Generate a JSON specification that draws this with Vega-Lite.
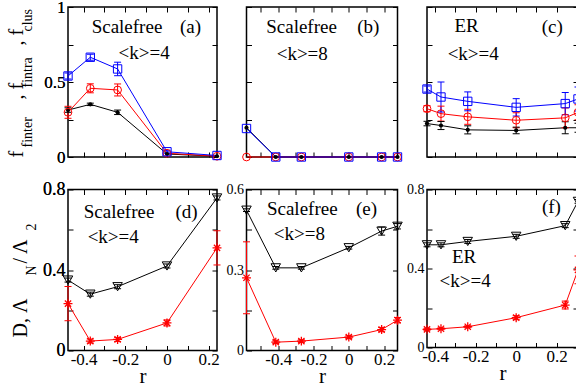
{
  "$schema": "https://vega.github.io/schema/vega-lite/v6.json",
  "background": "white",
  "padding": {"left": 5, "top": -3, "right": 0, "bottom": 0},
  "columns": 3,
  "spacing": {"row": 32.5, "column": 29.5},
  "bounds": "flush",
  "align": "none",
  "datasets": {
    "a": [
      {"s": "finter", "r": -0.475, "v": 0.313, "lo": 0.298, "hi": 0.328},
      {"s": "finter", "r": -0.368, "v": 0.351, "lo": 0.343, "hi": 0.359},
      {"s": "finter", "r": -0.237, "v": 0.298, "lo": 0.283, "hi": 0.313},
      {"s": "finter", "r": 0, "v": 0.02},
      {"s": "finter", "r": 0.24, "v": 0.005},
      {"s": "fintra", "r": -0.475, "v": 0.298, "lo": 0.258, "hi": 0.338},
      {"s": "fintra", "r": -0.368, "v": 0.458, "lo": 0.428, "hi": 0.488},
      {"s": "fintra", "r": -0.237, "v": 0.447, "lo": 0.407, "hi": 0.487},
      {"s": "fintra", "r": 0, "v": 0.025},
      {"s": "fintra", "r": 0.24, "v": 0.005},
      {"s": "clus", "r": -0.475, "v": 0.54, "lo": 0.52, "hi": 0.56},
      {"s": "clus", "r": -0.368, "v": 0.665, "lo": 0.645, "hi": 0.685},
      {"s": "clus", "r": -0.237, "v": 0.587, "lo": 0.542, "hi": 0.632},
      {"s": "clus", "r": 0, "v": 0.035, "lo": 0.025, "hi": 0.045},
      {"s": "clus", "r": 0.24, "v": 0.01}
    ],
    "b": [
      {"s": "finter", "r": -0.58, "v": 0.195},
      {"s": "finter", "r": -0.414, "v": 0},
      {"s": "finter", "r": -0.269, "v": 0},
      {"s": "finter", "r": 0, "v": 0},
      {"s": "finter", "r": 0.186, "v": 0},
      {"s": "finter", "r": 0.276, "v": 0},
      {"s": "fintra", "r": -0.58, "v": 0},
      {"s": "fintra", "r": -0.414, "v": 0},
      {"s": "fintra", "r": -0.269, "v": 0},
      {"s": "fintra", "r": 0, "v": 0},
      {"s": "fintra", "r": 0.186, "v": 0},
      {"s": "fintra", "r": 0.276, "v": 0},
      {"s": "clus", "r": -0.58, "v": 0.19, "lo": 0.18, "hi": 0.2},
      {"s": "clus", "r": -0.414, "v": 0},
      {"s": "clus", "r": -0.269, "v": 0},
      {"s": "clus", "r": 0, "v": 0},
      {"s": "clus", "r": 0.186, "v": 0},
      {"s": "clus", "r": 0.276, "v": 0}
    ],
    "c": [
      {"s": "finter", "r": -0.44, "v": 0.223, "lo": 0.208, "hi": 0.238},
      {"s": "finter", "r": -0.371, "v": 0.21, "lo": 0.183, "hi": 0.237},
      {"s": "finter", "r": -0.239, "v": 0.181, "lo": 0.154, "hi": 0.208},
      {"s": "finter", "r": 0, "v": 0.177, "lo": 0.155, "hi": 0.199},
      {"s": "finter", "r": 0.242, "v": 0.195, "lo": 0.155, "hi": 0.235},
      {"s": "finter", "r": 0.305, "v": 0.195, "lo": 0.165, "hi": 0.225},
      {"s": "fintra", "r": -0.44, "v": 0.322, "lo": 0.302, "hi": 0.342},
      {"s": "fintra", "r": -0.371, "v": 0.289, "lo": 0.239, "hi": 0.339},
      {"s": "fintra", "r": -0.239, "v": 0.268, "lo": 0.218, "hi": 0.318},
      {"s": "fintra", "r": 0, "v": 0.245, "lo": 0.195, "hi": 0.295},
      {"s": "fintra", "r": 0.242, "v": 0.261, "lo": 0.195, "hi": 0.327},
      {"s": "fintra", "r": 0.305, "v": 0.298, "lo": 0.248, "hi": 0.348},
      {"s": "clus", "r": -0.44, "v": 0.453, "lo": 0.433, "hi": 0.473},
      {"s": "clus", "r": -0.371, "v": 0.4, "lo": 0.3, "hi": 0.5},
      {"s": "clus", "r": -0.239, "v": 0.371, "lo": 0.308, "hi": 0.434},
      {"s": "clus", "r": 0, "v": 0.331, "lo": 0.273, "hi": 0.389},
      {"s": "clus", "r": 0.242, "v": 0.356, "lo": 0.282, "hi": 0.43},
      {"s": "clus", "r": 0.305, "v": 0.387, "lo": 0.307, "hi": 0.467}
    ],
    "d": [
      {"s": "D", "r": -0.475, "v": 0.35, "lo": 0.34, "hi": 0.36},
      {"s": "D", "r": -0.368, "v": 0.28, "lo": 0.27, "hi": 0.29},
      {"s": "D", "r": -0.237, "v": 0.317, "lo": 0.307, "hi": 0.327},
      {"s": "D", "r": 0, "v": 0.42, "lo": 0.41, "hi": 0.43},
      {"s": "D", "r": 0.24, "v": 0.758, "lo": 0.748, "hi": 0.768},
      {"s": "L", "r": -0.475, "v": 0.233, "lo": 0.148, "hi": 0.318},
      {"s": "L", "r": -0.368, "v": 0.047, "lo": 0.037, "hi": 0.057},
      {"s": "L", "r": -0.237, "v": 0.055, "lo": 0.045, "hi": 0.065},
      {"s": "L", "r": 0, "v": 0.137, "lo": 0.122, "hi": 0.152},
      {"s": "L", "r": 0.24, "v": 0.51, "lo": 0.425, "hi": 0.595}
    ],
    "e": [
      {"s": "D", "r": -0.58, "v": 0.523, "lo": 0.518, "hi": 0.528},
      {"s": "D", "r": -0.414, "v": 0.308, "lo": 0.303, "hi": 0.313},
      {"s": "D", "r": -0.269, "v": 0.308, "lo": 0.303, "hi": 0.313},
      {"s": "D", "r": 0, "v": 0.383, "lo": 0.378, "hi": 0.388},
      {"s": "D", "r": 0.186, "v": 0.445, "lo": 0.43, "hi": 0.46},
      {"s": "D", "r": 0.276, "v": 0.463, "lo": 0.453, "hi": 0.473},
      {"s": "L", "r": -0.58, "v": 0.271, "lo": 0.137, "hi": 0.405},
      {"s": "L", "r": -0.414, "v": 0.031, "lo": 0.026, "hi": 0.036},
      {"s": "L", "r": -0.269, "v": 0.035, "lo": 0.03, "hi": 0.04},
      {"s": "L", "r": 0, "v": 0.05, "lo": 0.045, "hi": 0.055},
      {"s": "L", "r": 0.186, "v": 0.078, "lo": 0.07, "hi": 0.086},
      {"s": "L", "r": 0.276, "v": 0.113, "lo": 0.103, "hi": 0.123}
    ],
    "f": [
      {"s": "D", "r": -0.44, "v": 0.52, "lo": 0.51, "hi": 0.53},
      {"s": "D", "r": -0.371, "v": 0.52, "lo": 0.51, "hi": 0.53},
      {"s": "D", "r": -0.239, "v": 0.537, "lo": 0.527, "hi": 0.547},
      {"s": "D", "r": 0, "v": 0.563, "lo": 0.553, "hi": 0.573},
      {"s": "D", "r": 0.242, "v": 0.617, "lo": 0.607, "hi": 0.627},
      {"s": "D", "r": 0.305, "v": 0.74, "lo": 0.73, "hi": 0.75},
      {"s": "L", "r": -0.44, "v": 0.092, "lo": 0.087, "hi": 0.097},
      {"s": "L", "r": -0.371, "v": 0.095, "lo": 0.09, "hi": 0.1},
      {"s": "L", "r": -0.239, "v": 0.105, "lo": 0.1, "hi": 0.11},
      {"s": "L", "r": 0, "v": 0.151, "lo": 0.141, "hi": 0.161},
      {"s": "L", "r": 0.242, "v": 0.215, "lo": 0.195, "hi": 0.235},
      {"s": "L", "r": 0.305, "v": 0.393, "lo": 0.323, "hi": 0.463}
    ]
  },
  "concat": [
    {
      "width": 149, "height": 150,
      "data": {"name": "a"},
      "layer": [
        {"mark": {"type": "line", "strokeWidth": 1},
         "encoding": {
           "x": {"field": "r", "type": "quantitative", "scale": {"domain": [-0.475, 0.24], "nice": false, "zero": false}, "axis": {"orient": "bottom", "values": [-0.4, -0.3, -0.2, -0.1, 0, 0.1, 0.2], "labels": false, "title": null}},
           "y": {"field": "v", "type": "quantitative", "scale": {"domain": [0, 1], "nice": false}, "axis": {"orient": "left", "values": [0, 0.25, 0.5, 0.75, 1], "labelExpr": "round(datum.value*4)%2==0 ? format(datum.value,'~g') : ''", "labelFontSize": 17, "title": null}},
           "color": {"field": "s", "type": "nominal", "scale": {"domain": ["finter", "fintra", "clus"], "range": ["#000000", "#ff0000", "#0000ff"]}, "legend": null}}},
        {"transform": [{"filter": "isValid(datum.lo)"}],
         "mark": {"type": "rule", "strokeWidth": 1},
         "encoding": {
           "x": {"field": "r", "type": "quantitative", "scale": {"domain": [-0.475, 0.24], "nice": false, "zero": false}, "axis": {"orient": "top", "values": [-0.4, -0.3, -0.2, -0.1, 0, 0.1, 0.2], "labels": false, "title": null}},
           "y": {"field": "lo", "type": "quantitative", "scale": {"domain": [0, 1], "nice": false}, "axis": {"orient": "right", "values": [0, 0.25, 0.5, 0.75, 1], "labels": false, "title": null}},
           "y2": {"field": "hi"},
           "color": {"field": "s", "type": "nominal", "scale": {"domain": ["finter", "fintra", "clus"], "range": ["#000000", "#ff0000", "#0000ff"]}, "legend": null}}},
        {"transform": [{"filter": "isValid(datum.lo)"}],
         "mark": {"type": "tick", "orient": "horizontal", "size": 7, "thickness": 1, "opacity": 1},
         "encoding": {
           "x": {"field": "r", "type": "quantitative", "scale": {"domain": [-0.475, 0.24], "nice": false, "zero": false}, "axis": null},
           "y": {"field": "lo", "type": "quantitative", "scale": {"domain": [0, 1], "nice": false}, "axis": {"orient": "right", "ticks": false, "labels": false, "title": "f", "titleFontSize": 20, "titleAngle": 270, "titleAlign": "left", "titleBaseline": "alphabetic", "titleX": -194.5, "titleY": 150}},
           "color": {"field": "s", "type": "nominal", "scale": {"domain": ["finter", "fintra", "clus"], "range": ["#000000", "#ff0000", "#0000ff"]}, "legend": null}}},
        {"transform": [{"filter": "isValid(datum.hi)"}],
         "mark": {"type": "tick", "orient": "horizontal", "size": 7, "thickness": 1, "opacity": 1},
         "encoding": {
           "x": {"field": "r", "type": "quantitative", "scale": {"domain": [-0.475, 0.24], "nice": false, "zero": false}, "axis": null},
           "y": {"field": "hi", "type": "quantitative", "scale": {"domain": [0, 1], "nice": false}, "axis": {"orient": "right", "ticks": false, "labels": false, "title": "finter", "titleFontSize": 14, "titleAngle": 270, "titleAlign": "left", "titleBaseline": "alphabetic", "titleX": -185.5, "titleY": 140}},
           "color": {"field": "s", "type": "nominal", "scale": {"domain": ["finter", "fintra", "clus"], "range": ["#000000", "#ff0000", "#0000ff"]}, "legend": null}}},
        {"transform": [{"filter": "datum.s=='finter'"}],
         "mark": {"type": "circle", "size": 18, "color": "#000000", "opacity": 1},
         "encoding": {
           "x": {"field": "r", "type": "quantitative", "scale": {"domain": [-0.475, 0.24], "nice": false, "zero": false}, "axis": null},
           "y": {"field": "v", "type": "quantitative", "scale": {"domain": [0, 1], "nice": false}, "axis": {"orient": "right", "ticks": false, "labels": false, "title": ", f", "titleFontSize": 20, "titleAngle": 270, "titleAlign": "left", "titleBaseline": "alphabetic", "titleX": -194.5, "titleY": 92}}}},
        {"transform": [{"filter": "datum.s=='fintra'"}],
         "mark": {"type": "point", "shape": "circle", "filled": false, "size": 60, "color": "#ff0000", "strokeWidth": 1, "opacity": 1},
         "encoding": {
           "x": {"field": "r", "type": "quantitative", "scale": {"domain": [-0.475, 0.24], "nice": false, "zero": false}, "axis": null},
           "y": {"field": "v", "type": "quantitative", "scale": {"domain": [0, 1], "nice": false}, "axis": {"orient": "right", "ticks": false, "labels": false, "title": "fintra", "titleFontSize": 14, "titleAngle": 270, "titleAlign": "left", "titleBaseline": "alphabetic", "titleX": -185.5, "titleY": 80}}}},
        {"transform": [{"filter": "datum.s=='clus'"}],
         "mark": {"type": "point", "shape": "square", "filled": false, "size": 70, "color": "#0000ff", "strokeWidth": 1, "opacity": 1},
         "encoding": {
           "x": {"field": "r", "type": "quantitative", "scale": {"domain": [-0.475, 0.24], "nice": false, "zero": false}, "axis": null},
           "y": {"field": "v", "type": "quantitative", "scale": {"domain": [0, 1], "nice": false}, "axis": {"orient": "right", "ticks": false, "labels": false, "title": ", f", "titleFontSize": 20, "titleAngle": 270, "titleAlign": "left", "titleBaseline": "alphabetic", "titleX": -194.5, "titleY": 38}}}},
        {"data": {"values": [{}]}, "mark": {"type": "text", "text": "Scalefree", "align": "center", "baseline": "alphabetic"},
         "encoding": {"x": {"datum": -0.192, "type": "quantitative", "axis": null}, "y": {"datum": 0.827, "type": "quantitative", "axis": {"orient": "right", "ticks": false, "labels": false, "title": "clus", "titleFontSize": 14, "titleAngle": 270, "titleAlign": "left", "titleBaseline": "alphabetic", "titleX": -185.5, "titleY": 24}}}},
        {"data": {"values": [{}]}, "mark": {"type": "text", "text": "(a)", "align": "center", "baseline": "alphabetic"},
         "encoding": {"x": {"datum": 0.113, "type": "quantitative", "axis": null}, "y": {"datum": 0.827, "type": "quantitative", "axis": {"orient": "right", "values": [0, 0.5, 1], "format": "~g", "labelAlign": "right", "labelPadding": -147, "labelFontSize": 17, "ticks": true, "tickOpacity": 0, "title": null}}}},
        {"data": {"values": [{}]}, "mark": {"type": "text", "text": "<k>=4", "align": "center", "baseline": "alphabetic"},
         "encoding": {"x": {"datum": -0.11, "type": "quantitative", "axis": null}, "y": {"datum": 0.653, "type": "quantitative", "axis": null}}}
      ],
      "resolve": {"axis": {"x": "independent", "y": "independent"}}
    },
    {
      "width": 151, "height": 150,
      "data": {"name": "b"},
      "layer": [
        {"mark": {"type": "line", "strokeWidth": 1},
         "encoding": {
           "x": {"field": "r", "type": "quantitative", "scale": {"domain": [-0.58, 0.276], "nice": false, "zero": false}, "axis": {"orient": "bottom", "values": [-0.5, -0.4, -0.3, -0.2, -0.1, 0, 0.1, 0.2], "labels": false, "title": null}},
           "y": {"field": "v", "type": "quantitative", "scale": {"domain": [0, 1], "nice": false}, "axis": {"orient": "left", "values": [0, 0.25, 0.5, 0.75, 1], "labels": false, "title": null}},
           "color": {"field": "s", "type": "nominal", "scale": {"domain": ["finter", "fintra", "clus"], "range": ["#000000", "#ff0000", "#0000ff"]}, "legend": null}}},
        {"transform": [{"filter": "isValid(datum.lo)"}],
         "mark": {"type": "rule", "strokeWidth": 1},
         "encoding": {
           "x": {"field": "r", "type": "quantitative", "scale": {"domain": [-0.58, 0.276], "nice": false, "zero": false}, "axis": {"orient": "top", "values": [-0.5, -0.4, -0.3, -0.2, -0.1, 0, 0.1, 0.2], "labels": false, "title": null}},
           "y": {"field": "lo", "type": "quantitative", "scale": {"domain": [0, 1], "nice": false}, "axis": {"orient": "right", "values": [0, 0.25, 0.5, 0.75, 1], "labels": false, "title": null}},
           "y2": {"field": "hi"},
           "color": {"field": "s", "type": "nominal", "scale": {"domain": ["finter", "fintra", "clus"], "range": ["#000000", "#ff0000", "#0000ff"]}, "legend": null}}},
        {"transform": [{"filter": "datum.s=='fintra'"}],
         "mark": {"type": "point", "shape": "circle", "filled": false, "size": 60, "color": "#ff0000", "strokeWidth": 1, "opacity": 1},
         "encoding": {
           "x": {"field": "r", "type": "quantitative", "scale": {"domain": [-0.58, 0.276], "nice": false, "zero": false}, "axis": null},
           "y": {"field": "v", "type": "quantitative", "scale": {"domain": [0, 1], "nice": false}, "axis": null}}},
        {"transform": [{"filter": "datum.s=='clus'"}],
         "mark": {"type": "point", "shape": "square", "filled": false, "size": 70, "color": "#0000ff", "strokeWidth": 1, "opacity": 1},
         "encoding": {
           "x": {"field": "r", "type": "quantitative", "scale": {"domain": [-0.58, 0.276], "nice": false, "zero": false}, "axis": null},
           "y": {"field": "v", "type": "quantitative", "scale": {"domain": [0, 1], "nice": false}, "axis": null}}},
        {"transform": [{"filter": "datum.s=='finter'"}],
         "mark": {"type": "circle", "size": 18, "color": "#000000", "opacity": 1},
         "encoding": {
           "x": {"field": "r", "type": "quantitative", "scale": {"domain": [-0.58, 0.276], "nice": false, "zero": false}, "axis": null},
           "y": {"field": "v", "type": "quantitative", "scale": {"domain": [0, 1], "nice": false}, "axis": null}}},
        {"data": {"values": [{}]}, "mark": {"type": "text", "text": "Scalefree", "align": "center", "baseline": "alphabetic"},
         "encoding": {"x": {"datum": -0.268, "type": "quantitative", "axis": null}, "y": {"datum": 0.827, "type": "quantitative", "axis": null}}},
        {"data": {"values": [{}]}, "mark": {"type": "text", "text": "(b)", "align": "center", "baseline": "alphabetic"},
         "encoding": {"x": {"datum": 0.11, "type": "quantitative", "axis": null}, "y": {"datum": 0.827, "type": "quantitative", "axis": null}}},
        {"data": {"values": [{}]}, "mark": {"type": "text", "text": "<k>=8", "align": "center", "baseline": "alphabetic"},
         "encoding": {"x": {"datum": -0.264, "type": "quantitative", "axis": null}, "y": {"datum": 0.647, "type": "quantitative", "axis": null}}}
      ],
      "resolve": {"axis": {"x": "independent", "y": "independent"}}
    },
    {
      "width": 151, "height": 150,
      "data": {"name": "c"},
      "layer": [
        {"mark": {"type": "line", "strokeWidth": 1},
         "encoding": {
           "x": {"field": "r", "type": "quantitative", "scale": {"domain": [-0.44, 0.305], "nice": false, "zero": false}, "axis": {"orient": "bottom", "values": [-0.4, -0.3, -0.2, -0.1, 0, 0.1, 0.2], "labels": false, "title": null}},
           "y": {"field": "v", "type": "quantitative", "scale": {"domain": [0, 1], "nice": false}, "axis": {"orient": "left", "values": [0, 0.25, 0.5, 0.75, 1], "labels": false, "title": null}},
           "color": {"field": "s", "type": "nominal", "scale": {"domain": ["finter", "fintra", "clus"], "range": ["#000000", "#ff0000", "#0000ff"]}, "legend": null}}},
        {"transform": [{"filter": "isValid(datum.lo)"}],
         "mark": {"type": "rule", "strokeWidth": 1},
         "encoding": {
           "x": {"field": "r", "type": "quantitative", "scale": {"domain": [-0.44, 0.305], "nice": false, "zero": false}, "axis": {"orient": "top", "values": [-0.4, -0.3, -0.2, -0.1, 0, 0.1, 0.2], "labels": false, "title": null}},
           "y": {"field": "lo", "type": "quantitative", "scale": {"domain": [0, 1], "nice": false}, "axis": {"orient": "right", "values": [0, 0.25, 0.5, 0.75, 1], "labels": false, "title": null}},
           "y2": {"field": "hi"},
           "color": {"field": "s", "type": "nominal", "scale": {"domain": ["finter", "fintra", "clus"], "range": ["#000000", "#ff0000", "#0000ff"]}, "legend": null}}},
        {"transform": [{"filter": "isValid(datum.lo)"}],
         "mark": {"type": "tick", "orient": "horizontal", "size": 7, "thickness": 1, "opacity": 1},
         "encoding": {
           "x": {"field": "r", "type": "quantitative", "scale": {"domain": [-0.44, 0.305], "nice": false, "zero": false}, "axis": null},
           "y": {"field": "lo", "type": "quantitative", "scale": {"domain": [0, 1], "nice": false}, "axis": null},
           "color": {"field": "s", "type": "nominal", "scale": {"domain": ["finter", "fintra", "clus"], "range": ["#000000", "#ff0000", "#0000ff"]}, "legend": null}}},
        {"transform": [{"filter": "isValid(datum.hi)"}],
         "mark": {"type": "tick", "orient": "horizontal", "size": 7, "thickness": 1, "opacity": 1},
         "encoding": {
           "x": {"field": "r", "type": "quantitative", "scale": {"domain": [-0.44, 0.305], "nice": false, "zero": false}, "axis": null},
           "y": {"field": "hi", "type": "quantitative", "scale": {"domain": [0, 1], "nice": false}, "axis": null},
           "color": {"field": "s", "type": "nominal", "scale": {"domain": ["finter", "fintra", "clus"], "range": ["#000000", "#ff0000", "#0000ff"]}, "legend": null}}},
        {"transform": [{"filter": "datum.s=='finter'"}],
         "mark": {"type": "circle", "size": 18, "color": "#000000", "opacity": 1},
         "encoding": {
           "x": {"field": "r", "type": "quantitative", "scale": {"domain": [-0.44, 0.305], "nice": false, "zero": false}, "axis": null},
           "y": {"field": "v", "type": "quantitative", "scale": {"domain": [0, 1], "nice": false}, "axis": null}}},
        {"transform": [{"filter": "datum.s=='fintra'"}],
         "mark": {"type": "point", "shape": "circle", "filled": false, "size": 60, "color": "#ff0000", "strokeWidth": 1, "opacity": 1},
         "encoding": {
           "x": {"field": "r", "type": "quantitative", "scale": {"domain": [-0.44, 0.305], "nice": false, "zero": false}, "axis": null},
           "y": {"field": "v", "type": "quantitative", "scale": {"domain": [0, 1], "nice": false}, "axis": null}}},
        {"transform": [{"filter": "datum.s=='clus'"}],
         "mark": {"type": "point", "shape": "square", "filled": false, "size": 70, "color": "#0000ff", "strokeWidth": 1, "opacity": 1},
         "encoding": {
           "x": {"field": "r", "type": "quantitative", "scale": {"domain": [-0.44, 0.305], "nice": false, "zero": false}, "axis": null},
           "y": {"field": "v", "type": "quantitative", "scale": {"domain": [0, 1], "nice": false}, "axis": null}}},
        {"data": {"values": [{}]}, "mark": {"type": "text", "text": "ER", "align": "center", "baseline": "alphabetic"},
         "encoding": {"x": {"datum": -0.245, "type": "quantitative", "axis": null}, "y": {"datum": 0.831, "type": "quantitative", "axis": null}}},
        {"data": {"values": [{}]}, "mark": {"type": "text", "text": "(c)", "align": "center", "baseline": "alphabetic"},
         "encoding": {"x": {"datum": 0.178, "type": "quantitative", "axis": null}, "y": {"datum": 0.827, "type": "quantitative", "axis": null}}},
        {"data": {"values": [{}]}, "mark": {"type": "text", "text": "<k>=4", "align": "center", "baseline": "alphabetic"},
         "encoding": {"x": {"datum": -0.212, "type": "quantitative", "axis": null}, "y": {"datum": 0.647, "type": "quantitative", "axis": null}}}
      ],
      "resolve": {"axis": {"x": "independent", "y": "independent"}}
    },
    {
      "width": 149, "height": 161,
      "data": {"name": "d"},
      "layer": [
        {"mark": {"type": "line", "strokeWidth": 1},
         "encoding": {
           "x": {"field": "r", "type": "quantitative", "scale": {"domain": [-0.475, 0.24], "nice": false, "zero": false}, "axis": {"orient": "bottom", "values": [-0.4, -0.3, -0.2, -0.1, 0, 0.1, 0.2], "labelExpr": "round(datum.value*10)%2==0 ? replace(format(datum.value,'~g'),'\u2212','-') : ''", "labelPadding": 6, "title": "r", "titleFontSize": 21, "titlePadding": -2}},
           "y": {"field": "v", "type": "quantitative", "scale": {"domain": [0, 0.8], "nice": false}, "axis": {"orient": "left", "values": [0, 0.2, 0.4, 0.6, 0.8], "labelExpr": "round(datum.value*5)%2==0 ? format(datum.value,'~g') : ''", "labelFontSize": 18, "title": null}},
           "color": {"field": "s", "type": "nominal", "scale": {"domain": ["D", "L"], "range": ["#000000", "#ff0000"]}, "legend": null}}},
        {"transform": [{"filter": "isValid(datum.lo)"}],
         "mark": {"type": "rule", "strokeWidth": 1},
         "encoding": {
           "x": {"field": "r", "type": "quantitative", "scale": {"domain": [-0.475, 0.24], "nice": false, "zero": false}, "axis": {"orient": "top", "values": [-0.4, -0.3, -0.2, -0.1, 0, 0.1, 0.2], "labels": false, "title": null}},
           "y": {"field": "lo", "type": "quantitative", "scale": {"domain": [0, 0.8], "nice": false}, "axis": {"orient": "right", "values": [0, 0.2, 0.4, 0.6, 0.8], "labels": false, "title": null}},
           "y2": {"field": "hi"},
           "color": {"field": "s", "type": "nominal", "scale": {"domain": ["D", "L"], "range": ["#000000", "#ff0000"]}, "legend": null}}},
        {"transform": [{"filter": "isValid(datum.lo)"}],
         "mark": {"type": "tick", "orient": "horizontal", "size": 7, "thickness": 1, "opacity": 1},
         "encoding": {
           "x": {"field": "r", "type": "quantitative", "scale": {"domain": [-0.475, 0.24], "nice": false, "zero": false}, "axis": null},
           "y": {"field": "lo", "type": "quantitative", "scale": {"domain": [0, 0.8], "nice": false}, "axis": {"orient": "right", "ticks": false, "labels": false, "title": "D,  \u039b", "titleFontSize": 20, "titleAngle": 270, "titleAlign": "left", "titleBaseline": "alphabetic", "titleX": -190.5, "titleY": 147.5}},
           "color": {"field": "s", "type": "nominal", "scale": {"domain": ["D", "L"], "range": ["#000000", "#ff0000"]}, "legend": null}}},
        {"transform": [{"filter": "isValid(datum.hi)"}],
         "mark": {"type": "tick", "orient": "horizontal", "size": 7, "thickness": 1, "opacity": 1},
         "encoding": {
           "x": {"field": "r", "type": "quantitative", "scale": {"domain": [-0.475, 0.24], "nice": false, "zero": false}, "axis": null},
           "y": {"field": "hi", "type": "quantitative", "scale": {"domain": [0, 0.8], "nice": false}, "axis": {"orient": "right", "ticks": false, "labels": false, "title": "N", "titleFontSize": 14, "titleAngle": 270, "titleAlign": "left", "titleBaseline": "alphabetic", "titleX": -182, "titleY": 85.5}},
           "color": {"field": "s", "type": "nominal", "scale": {"domain": ["D", "L"], "range": ["#000000", "#ff0000"]}, "legend": null}}},
        {"transform": [{"filter": "datum.s=='D'"}],
         "mark": {"type": "point", "shape": "triangle-down", "filled": false, "size": 90, "color": "#000000", "strokeWidth": 1, "opacity": 1},
         "encoding": {
           "x": {"field": "r", "type": "quantitative", "scale": {"domain": [-0.475, 0.24], "nice": false, "zero": false}, "axis": null},
           "y": {"field": "v", "type": "quantitative", "scale": {"domain": [0, 0.8], "nice": false}, "axis": {"orient": "right", "ticks": false, "labels": false, "title": "/ \u039b", "titleFontSize": 20, "titleAngle": 270, "titleAlign": "left", "titleBaseline": "alphabetic", "titleX": -190.5, "titleY": 73.5}}}},
        {"transform": [{"filter": "datum.s=='L'"}],
         "mark": {"type": "point", "shape": "M -1 0 L 1 0 M 0 -1 L 0 1 M -0.7 -0.7 L 0.7 0.7 M -0.7 0.7 L 0.7 -0.7", "filled": false, "size": 80, "color": "#ff0000", "strokeWidth": 1.3, "opacity": 1},
         "encoding": {
           "x": {"field": "r", "type": "quantitative", "scale": {"domain": [-0.475, 0.24], "nice": false, "zero": false}, "axis": null},
           "y": {"field": "v", "type": "quantitative", "scale": {"domain": [0, 0.8], "nice": false}, "axis": {"orient": "right", "ticks": false, "labels": false, "title": "2", "titleFontSize": 14, "titleAngle": 270, "titleAlign": "left", "titleBaseline": "alphabetic", "titleX": -182, "titleY": 40.5}}}},
        {"data": {"values": [{}]}, "mark": {"type": "text", "text": "Scalefree", "align": "center", "baseline": "alphabetic"},
         "encoding": {"x": {"datum": -0.23, "type": "quantitative", "axis": null}, "y": {"datum": 0.66, "type": "quantitative", "axis": null}}},
        {"data": {"values": [{}]}, "mark": {"type": "text", "text": "(d)", "align": "center", "baseline": "alphabetic"},
         "encoding": {"x": {"datum": 0.094, "type": "quantitative", "axis": null}, "y": {"datum": 0.66, "type": "quantitative", "axis": {"orient": "right", "values": [0, 0.4, 0.8], "format": "~g", "labelAlign": "right", "labelPadding": -147, "labelFontSize": 18, "ticks": true, "tickOpacity": 0, "title": null}}}},
        {"data": {"values": [{}]}, "mark": {"type": "text", "text": "<k>=4", "align": "center", "baseline": "alphabetic"},
         "encoding": {"x": {"datum": -0.258, "type": "quantitative", "axis": null}, "y": {"datum": 0.533, "type": "quantitative", "axis": null}}}
      ],
      "resolve": {"axis": {"x": "independent", "y": "independent"}}
    },
    {
      "width": 151, "height": 161,
      "data": {"name": "e"},
      "layer": [
        {"mark": {"type": "line", "strokeWidth": 1},
         "encoding": {
           "x": {"field": "r", "type": "quantitative", "scale": {"domain": [-0.58, 0.276], "nice": false, "zero": false}, "axis": {"orient": "bottom", "values": [-0.5, -0.4, -0.3, -0.2, -0.1, 0, 0.1, 0.2], "labelExpr": "round(datum.value*10)%2==0 ? replace(format(datum.value,'~g'),'\u2212','-') : ''", "labelPadding": 6, "title": "r", "titleFontSize": 21, "titlePadding": -2}},
           "y": {"field": "v", "type": "quantitative", "scale": {"domain": [0, 0.6], "nice": false}, "axis": {"orient": "left", "values": [0, 0.15, 0.3, 0.45, 0.6], "labelExpr": "round(datum.value/0.15)%2==0 ? format(datum.value,'~g') : ''", "labelFontSize": 14, "title": null}},
           "color": {"field": "s", "type": "nominal", "scale": {"domain": ["D", "L"], "range": ["#000000", "#ff0000"]}, "legend": null}}},
        {"transform": [{"filter": "isValid(datum.lo)"}],
         "mark": {"type": "rule", "strokeWidth": 1},
         "encoding": {
           "x": {"field": "r", "type": "quantitative", "scale": {"domain": [-0.58, 0.276], "nice": false, "zero": false}, "axis": {"orient": "top", "values": [-0.5, -0.4, -0.3, -0.2, -0.1, 0, 0.1, 0.2], "labels": false, "title": null}},
           "y": {"field": "lo", "type": "quantitative", "scale": {"domain": [0, 0.6], "nice": false}, "axis": {"orient": "right", "values": [0, 0.15, 0.3, 0.45, 0.6], "labels": false, "title": null}},
           "y2": {"field": "hi"},
           "color": {"field": "s", "type": "nominal", "scale": {"domain": ["D", "L"], "range": ["#000000", "#ff0000"]}, "legend": null}}},
        {"transform": [{"filter": "isValid(datum.lo)"}],
         "mark": {"type": "tick", "orient": "horizontal", "size": 7, "thickness": 1, "opacity": 1},
         "encoding": {
           "x": {"field": "r", "type": "quantitative", "scale": {"domain": [-0.58, 0.276], "nice": false, "zero": false}, "axis": null},
           "y": {"field": "lo", "type": "quantitative", "scale": {"domain": [0, 0.6], "nice": false}, "axis": null},
           "color": {"field": "s", "type": "nominal", "scale": {"domain": ["D", "L"], "range": ["#000000", "#ff0000"]}, "legend": null}}},
        {"transform": [{"filter": "isValid(datum.hi)"}],
         "mark": {"type": "tick", "orient": "horizontal", "size": 7, "thickness": 1, "opacity": 1},
         "encoding": {
           "x": {"field": "r", "type": "quantitative", "scale": {"domain": [-0.58, 0.276], "nice": false, "zero": false}, "axis": null},
           "y": {"field": "hi", "type": "quantitative", "scale": {"domain": [0, 0.6], "nice": false}, "axis": null},
           "color": {"field": "s", "type": "nominal", "scale": {"domain": ["D", "L"], "range": ["#000000", "#ff0000"]}, "legend": null}}},
        {"transform": [{"filter": "datum.s=='D'"}],
         "mark": {"type": "point", "shape": "triangle-down", "filled": false, "size": 90, "color": "#000000", "strokeWidth": 1, "opacity": 1},
         "encoding": {
           "x": {"field": "r", "type": "quantitative", "scale": {"domain": [-0.58, 0.276], "nice": false, "zero": false}, "axis": null},
           "y": {"field": "v", "type": "quantitative", "scale": {"domain": [0, 0.6], "nice": false}, "axis": null}}},
        {"transform": [{"filter": "datum.s=='L'"}],
         "mark": {"type": "point", "shape": "M -1 0 L 1 0 M 0 -1 L 0 1 M -0.7 -0.7 L 0.7 0.7 M -0.7 0.7 L 0.7 -0.7", "filled": false, "size": 80, "color": "#ff0000", "strokeWidth": 1.3, "opacity": 1},
         "encoding": {
           "x": {"field": "r", "type": "quantitative", "scale": {"domain": [-0.58, 0.276], "nice": false, "zero": false}, "axis": null},
           "y": {"field": "v", "type": "quantitative", "scale": {"domain": [0, 0.6], "nice": false}, "axis": null}}},
        {"data": {"values": [{}]}, "mark": {"type": "text", "text": "Scalefree", "align": "center", "baseline": "alphabetic"},
         "encoding": {"x": {"datum": -0.264, "type": "quantitative", "axis": null}, "y": {"datum": 0.505, "type": "quantitative", "axis": null}}},
        {"data": {"values": [{}]}, "mark": {"type": "text", "text": "(e)", "align": "center", "baseline": "alphabetic"},
         "encoding": {"x": {"datum": 0.1, "type": "quantitative", "axis": null}, "y": {"datum": 0.505, "type": "quantitative", "axis": null}}},
        {"data": {"values": [{}]}, "mark": {"type": "text", "text": "<k>=8", "align": "center", "baseline": "alphabetic"},
         "encoding": {"x": {"datum": -0.28, "type": "quantitative", "axis": null}, "y": {"datum": 0.412, "type": "quantitative", "axis": null}}}
      ],
      "resolve": {"axis": {"x": "independent", "y": "independent"}}
    },
    {
      "width": 151, "height": 158,
      "data": {"name": "f"},
      "layer": [
        {"mark": {"type": "line", "strokeWidth": 1},
         "encoding": {
           "x": {"field": "r", "type": "quantitative", "scale": {"domain": [-0.44, 0.305], "nice": false, "zero": false}, "axis": {"orient": "bottom", "values": [-0.4, -0.3, -0.2, -0.1, 0, 0.1, 0.2], "labelExpr": "round(datum.value*10)%2==0 ? replace(format(datum.value,'~g'),'\u2212','-') : ''", "labelPadding": 6, "title": "r", "titleFontSize": 21, "titlePadding": -2}},
           "y": {"field": "v", "type": "quantitative", "scale": {"domain": [0, 0.8], "nice": false}, "axis": {"orient": "left", "values": [0, 0.2, 0.4, 0.6, 0.8], "labelExpr": "round(datum.value*5)%2==0 ? format(datum.value,'~g') : ''", "labelFontSize": 14, "title": null}},
           "color": {"field": "s", "type": "nominal", "scale": {"domain": ["D", "L"], "range": ["#000000", "#ff0000"]}, "legend": null}}},
        {"transform": [{"filter": "isValid(datum.lo)"}],
         "mark": {"type": "rule", "strokeWidth": 1},
         "encoding": {
           "x": {"field": "r", "type": "quantitative", "scale": {"domain": [-0.44, 0.305], "nice": false, "zero": false}, "axis": {"orient": "top", "values": [-0.4, -0.3, -0.2, -0.1, 0, 0.1, 0.2], "labels": false, "title": null}},
           "y": {"field": "lo", "type": "quantitative", "scale": {"domain": [0, 0.8], "nice": false}, "axis": {"orient": "right", "values": [0, 0.2, 0.4, 0.6, 0.8], "labels": false, "title": null}},
           "y2": {"field": "hi"},
           "color": {"field": "s", "type": "nominal", "scale": {"domain": ["D", "L"], "range": ["#000000", "#ff0000"]}, "legend": null}}},
        {"transform": [{"filter": "isValid(datum.lo)"}],
         "mark": {"type": "tick", "orient": "horizontal", "size": 7, "thickness": 1, "opacity": 1},
         "encoding": {
           "x": {"field": "r", "type": "quantitative", "scale": {"domain": [-0.44, 0.305], "nice": false, "zero": false}, "axis": null},
           "y": {"field": "lo", "type": "quantitative", "scale": {"domain": [0, 0.8], "nice": false}, "axis": null},
           "color": {"field": "s", "type": "nominal", "scale": {"domain": ["D", "L"], "range": ["#000000", "#ff0000"]}, "legend": null}}},
        {"transform": [{"filter": "isValid(datum.hi)"}],
         "mark": {"type": "tick", "orient": "horizontal", "size": 7, "thickness": 1, "opacity": 1},
         "encoding": {
           "x": {"field": "r", "type": "quantitative", "scale": {"domain": [-0.44, 0.305], "nice": false, "zero": false}, "axis": null},
           "y": {"field": "hi", "type": "quantitative", "scale": {"domain": [0, 0.8], "nice": false}, "axis": null},
           "color": {"field": "s", "type": "nominal", "scale": {"domain": ["D", "L"], "range": ["#000000", "#ff0000"]}, "legend": null}}},
        {"transform": [{"filter": "datum.s=='D'"}],
         "mark": {"type": "point", "shape": "triangle-down", "filled": false, "size": 90, "color": "#000000", "strokeWidth": 1, "opacity": 1},
         "encoding": {
           "x": {"field": "r", "type": "quantitative", "scale": {"domain": [-0.44, 0.305], "nice": false, "zero": false}, "axis": null},
           "y": {"field": "v", "type": "quantitative", "scale": {"domain": [0, 0.8], "nice": false}, "axis": null}}},
        {"transform": [{"filter": "datum.s=='L'"}],
         "mark": {"type": "point", "shape": "M -1 0 L 1 0 M 0 -1 L 0 1 M -0.7 -0.7 L 0.7 0.7 M -0.7 0.7 L 0.7 -0.7", "filled": false, "size": 80, "color": "#ff0000", "strokeWidth": 1.3, "opacity": 1},
         "encoding": {
           "x": {"field": "r", "type": "quantitative", "scale": {"domain": [-0.44, 0.305], "nice": false, "zero": false}, "axis": null},
           "y": {"field": "v", "type": "quantitative", "scale": {"domain": [0, 0.8], "nice": false}, "axis": null}}},
        {"data": {"values": [{}]}, "mark": {"type": "text", "text": "(f)", "align": "center", "baseline": "alphabetic"},
         "encoding": {"x": {"datum": 0.174, "type": "quantitative", "axis": null}, "y": {"datum": 0.681, "type": "quantitative", "axis": null}}},
        {"data": {"values": [{}]}, "mark": {"type": "text", "text": "ER", "align": "center", "baseline": "alphabetic"},
         "encoding": {"x": {"datum": -0.257, "type": "quantitative", "axis": null}, "y": {"datum": 0.43, "type": "quantitative", "axis": null}}},
        {"data": {"values": [{}]}, "mark": {"type": "text", "text": "<k>=4", "align": "center", "baseline": "alphabetic"},
         "encoding": {"x": {"datum": -0.252, "type": "quantitative", "axis": null}, "y": {"datum": 0.308, "type": "quantitative", "axis": null}}}
      ],
      "resolve": {"axis": {"x": "independent", "y": "independent"}}
    }
  ],
  "config": {
    "view": {"stroke": "#000000", "strokeWidth": 1.5},
    "axis": {"domain": false, "grid": false, "labelOverlap": false, "tickColor": "#000000", "tickSize": -5, "tickWidth": 1, "labelFont": "Liberation Serif", "labelColor": "#000000", "labelFontSize": 17, "labelPadding": 8, "titleFont": "Liberation Serif", "titleColor": "#000000", "titleFontWeight": "normal"},
    "text": {"font": "Liberation Serif", "fontSize": 19, "color": "#000000"}
  }
}
